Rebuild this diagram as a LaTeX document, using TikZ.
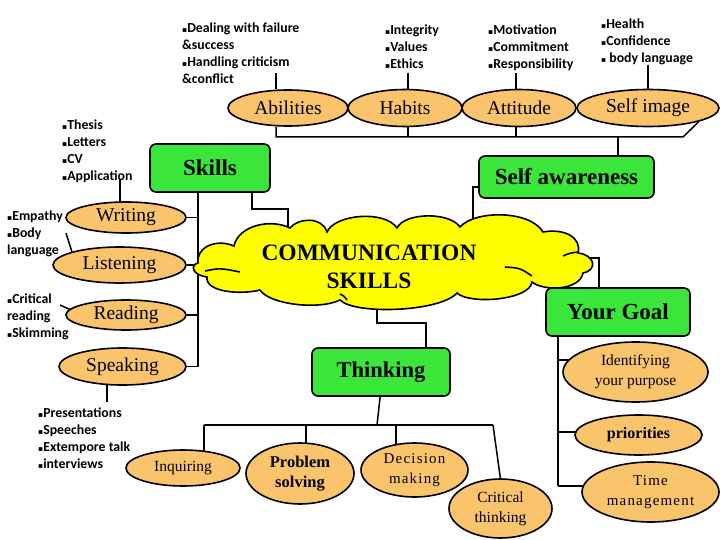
\documentclass[tikz,border=0pt]{standalone}
\usepackage{fontspec}
\setmainfont{Liberation Serif}
\newfontfamily\calfont{Carlito}
\newfontfamily\dvfont{DejaVu Sans}
\newfontfamily\spacedfont[LetterSpace=8]{Liberation Serif}
\usetikzlibrary{shapes.geometric,calc}
\definecolor{ovfill}{HTML}{F9C46B}
\definecolor{boxgreen}{HTML}{3AE63A}
\definecolor{cloudy}{HTML}{FFFF00}
\newcommand\bl{{\dvfont\fontsize{7.5}{7.5}\selectfont ▪}}
\pgfdeclarelayer{bg}
\pgfsetlayers{bg,main}
\begin{document}
\begin{tikzpicture}[x=1pt,y=-1pt,
  oval/.style={ellipse,draw,line width=1.6pt,fill=ovfill,inner sep=0pt,align=center,font=\fontsize{19.5}{21}\selectfont},
  smalloval/.style={oval,font=\fontsize{15.5}{20}\selectfont},
  gbox/.style={rectangle,rounded corners=6pt,draw,line width=1.6pt,fill=boxgreen,inner sep=0pt,font=\bfseries\fontsize{23}{24}\selectfont},
  note/.style={anchor=north west,inner sep=0pt,align=left,font=\calfont\bfseries\fontsize{13.8}{16.8}\selectfont},
  link/.style={line width=1.5pt},
  cloudline/.style={line width=1.6pt}]
\useasboundingbox (0,0) rectangle (720,540);

% ---- top ovals
\node[oval,minimum width=120,minimum height=36] (abil) at (288,108) {Abilities};
\node[oval,minimum width=114,minimum height=37] (habits) at (405,108) {Habits};
\node[oval,minimum width=114,minimum height=37] (attitude) at (519,108) {Attitude};
\node[oval,minimum width=142,minimum height=37] (selfimg) at (648,108) {Self image};

% ---- notes
\node[note] (dealing) at (182,23) {\bl Dealing with failure\\ \&success\\ \bl Handling criticism\\ \&conflict};
\node[note] (integrity) at (385,25) {\bl Integrity\\ \bl Values\\ \bl Ethics};
\node[note] (motivation) at (488,25) {\bl Motivation\\ \bl Commitment\\ \bl Responsibility};
\node[note] (health) at (601,19) {\bl Health\\ \bl Confidence\\ \bl\ body language};
\node[note] (thesis) at (62,120) {\bl Thesis\\ \bl Letters\\ \bl CV\\ \bl Application};
\node[note] (empathy) at (7,211) {\bl Empathy\\ \bl Body\\ language};
\node[note] (critread) at (7,294) {\bl Critical\\ reading\\ \bl Skimming};
\node[note] (present) at (38,408) {\bl Presentations\\ \bl Speeches\\ \bl Extempore talk\\ \bl interviews};

% ---- green boxes
\node[gbox,minimum width=120,minimum height=48] (skills) at (210,168) {Skills};
\node[gbox,minimum width=175,minimum height=42] (selfaw) at (566.5,177) {Self awareness};
\node[gbox,minimum width=144,minimum height=48] (goal) at (618,312) {Your Goal};
\node[gbox,minimum width=138,minimum height=48,font=\bfseries\fontsize{22.5}{24}\selectfont] (thinking) at (381,372) {Thinking};

% ---- skills ovals
\node[oval,minimum width=120,minimum height=31] (writing) at (126,217.5) {Writing};
\node[oval,minimum width=133,minimum height=36] (listening) at (119.5,265) {Listening};
\node[oval,minimum width=120,minimum height=30] (reading) at (126,315) {Reading};
\node[oval,minimum width=127,minimum height=37] (speaking) at (122.5,366.5) {Speaking};

% ---- cloud (drawn shape)
\draw[cloudline,fill=cloudy]
  (198,263) .. controls (196,248) and (215,238) .. (234,246)
  .. controls (238,226) and (270,218) .. (290,228)
  .. controls (298,218) and (322,216) .. (327,232)
  .. controls (335,214) and (385,210) .. (397,228)
  .. controls (405,212) and (450,212) .. (460,227)
  .. controls (475,210) and (530,210) .. (543,232)
  .. controls (565,228) and (582,238) .. (578,253)
  .. controls (595,255) and (598,270) .. (583,273)
  .. controls (580,290) and (545,292) .. (532,282)
  .. controls (530,300) and (470,305) .. (457,293)
  .. controls (440,312) and (355,315) .. (340,300)
  .. controls (320,310) and (270,305) .. (260,290)
  .. controls (240,295) and (205,292) .. (207,277)
  .. controls (192,275) and (190,265) .. cycle;
\draw[cloudline] (205,271) .. controls (220,268) .. (240,272);
\draw[cloudline] (563,256) .. controls (570,253) .. (578,252);
\draw[cloudline] (505,267) .. controls (520,268) .. (532,276);
\draw[cloudline] (340,294) .. controls (344,296) .. (347,300);
\coordinate (cloudtopL) at (288,232);
\coordinate (cloudtopR) at (473,230);
\coordinate (cloudright) at (585,258);
\coordinate (cloudbot) at (377,302);
\node[font=\bfseries\fontsize{23.5}{28}\selectfont,align=center,inner sep=0pt] (commtext) at (369,267) {COMMUNICATION\\SKILLS};

% ---- thinking ovals
\node[smalloval,minimum width=114,minimum height=36] (inquiring) at (183,468) {Inquiring};
\node[oval,minimum width=108,minimum height=61,font=\bfseries\fontsize{16.5}{20.5}\selectfont] (problem) at (300,473.5) {Problem\\solving};
\node[smalloval,minimum width=107,minimum height=54,font=\spacedfont\fontsize{15}{19.5}\selectfont] (decision) at (414.5,470) {Decision\\making};
\node[smalloval,minimum width=103,minimum height=59] (critical) at (500.5,508.5) {Critical\\thinking};

% ---- goal ovals
\node[smalloval,minimum width=145,minimum height=60] (identify) at (635.5,372) {Identifying\\your purpose};
\node[oval,minimum width=127,minimum height=40,font=\bfseries\fontsize{16}{20}\selectfont] (priorities) at (638.5,435) {priorities};
\node[smalloval,minimum width=137,minimum height=60,font=\spacedfont\fontsize{15}{19.5}\selectfont] (timem) at (650.5,492) {Time\\management};

% ---- connectors
\coordinate (tA) at (276,73);
\coordinate (tH) at (408,73);
\coordinate (tT) at (516,73);
\coordinate (tS) at (648,65);
\coordinate (busL) at (276,137);
\coordinate (busR) at (683,137);
\coordinate (saT) at (618,137);
\coordinate (sk1) at (198,192);
\coordinate (sk2) at (252,192);
\coordinate (th1) at (120,179);
\coordinate (em1) at (66,233);
\coordinate (em2) at (72,252);
\coordinate (cr1) at (60,305);
\coordinate (cr2) at (71,310);
\coordinate (sp1) at (107,402);
\coordinate (tb) at (377,425);
\coordinate (tbL) at (204,425);
\coordinate (tbR) at (493,425);
\coordinate (gb) at (558,336);
\coordinate (gx) at (599,258);
\coordinate (tx) at (426,323);
\begin{pgfonlayer}{bg}
\draw[link] (tA) -- (abil.north -| tA);
\draw[link] (tH) -- (habits.north -| tH);
\draw[link] (tT) -- (attitude.north -| tT);
\draw[link] (tS) -- (selfimg.north -| tS);
\draw[link] (abil.south -| busL) -- (busL) -- (busR) -- (selfimg.south east);
\draw[link] (habits.south -| tH) -- (busL -| tH);
\draw[link] (attitude.south -| tT) -- (busL -| tT);
\draw[link] (saT) -- (saT |- selfaw.north);
% skills
\draw[link] (th1) -- (writing.center -| th1);
\draw[link] (em1) -- (em2);
\draw[link] (cr1) -- (cr2);
\draw[link] (sk1) |- (speaking.east);
\draw[link] (sk1 |- writing.east) -- (writing.east);
\draw[link] (sk1 |- listening.east) -- (listening.east);
\draw[link] (sk1 |- reading.east) -- (reading.east);
\draw[link] (sk2) -- ++(0,17) -| (cloudtopL);
\draw[link] (speaking.center -| sp1) -- (sp1);
% self awareness to cloud
\draw[link] (selfaw.west |- 0,187) -| (cloudtopR);
% cloud to goal & thinking
\draw[link] (cloudright) -- (gx) -- (gx |- goal.north);
\draw[link] (cloudbot) |- (tx) -- (tx |- thinking.north);
% thinking bus
\draw[link] (382,380) -- (tb);
\draw[link] (tbL) -- (tbR);
\draw[link] (tbL) -- (inquiring.center -| tbL);
\draw[link] (306,425) -- (306,460);
\draw[link] (396,425) -- (396,460);
\draw[link] (tbR) -- (502,490);
% goal bus
\draw[link] (gb) -- (558,486);
\draw[link] (558,360) -- (600,360);
\draw[link] (558,432) -- (600,432);
\draw[link] (558,486) -- (600,486);
\end{pgfonlayer}
\end{tikzpicture}
\end{document}
